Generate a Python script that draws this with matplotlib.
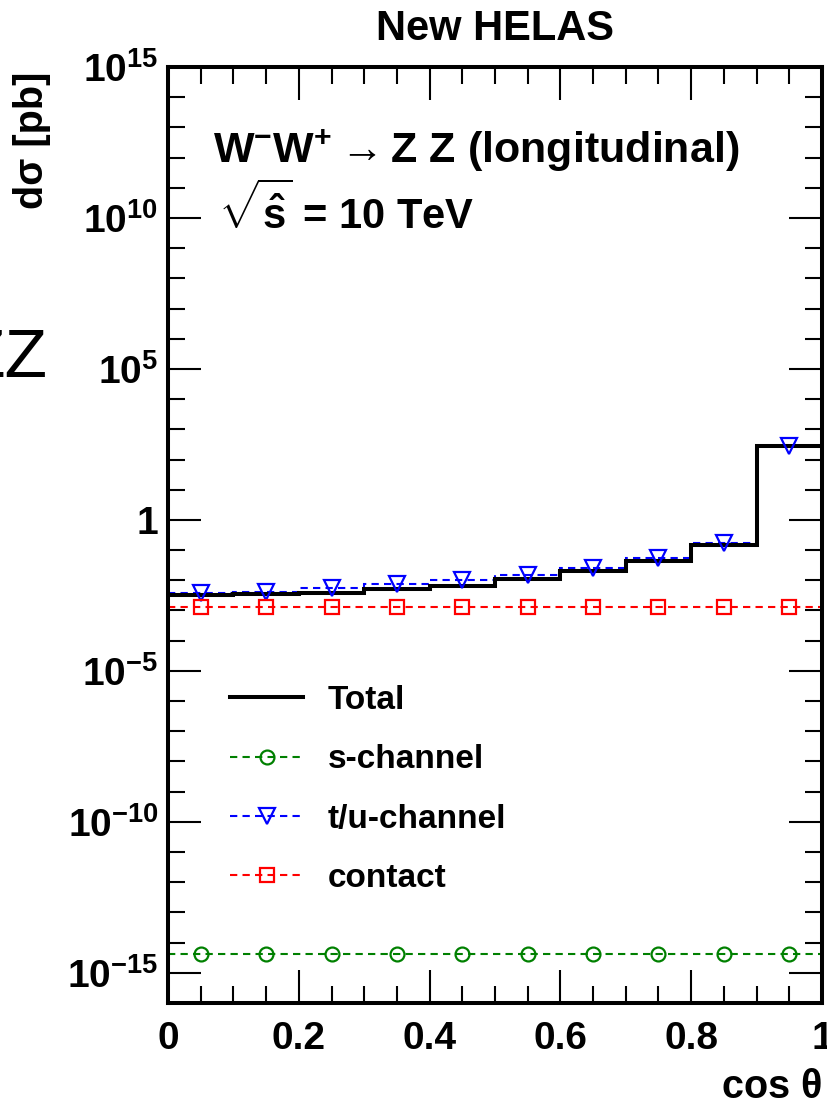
import numpy as np
import matplotlib
matplotlib.use("Agg")
import matplotlib.pyplot as plt
from matplotlib.lines import Line2D
from matplotlib.ticker import FixedLocator, FixedFormatter

plt.rcParams['font.family'] = ['Liberation Sans', 'DejaVu Sans']
plt.rcParams['font.weight'] = 'bold'
plt.rcParams['mathtext.fontset'] = 'custom'
plt.rcParams['mathtext.rm'] = 'Liberation Sans:bold'
plt.rcParams['mathtext.it'] = 'Liberation Sans:bold'
plt.rcParams['mathtext.bf'] = 'Liberation Sans:bold'
plt.rcParams['mathtext.sf'] = 'Liberation Sans'

# ---- data ----
bin_edges = [0.0, 0.1, 0.2, 0.3, 0.4, 0.5, 0.6, 0.7, 0.8, 0.9, 1.0]
total = [3.2e-3, 3.4e-3, 3.9e-3, 5.0e-3, 6.5e-3, 1.07e-2, 2.04e-2, 4.4e-2, 1.48e-1, 2.7e2]
s_channel = [4.2e-15] * 10
tu_channel = [3.9e-3, 4.2e-3, 5.4e-3, 7.4e-3, 1.0e-2, 1.48e-2, 2.6e-2, 5.6e-2, 1.78e-1, 2.8e2]
contact = [1.3e-3] * 10

series_labels = ["Total", "s-channel", "t/u-channel", "contact"]
ytick_vals = [1e-15, 1e-10, 1e-5, 1, 1e5, 1e10, 1e15]
ytick_labels = [r"$\mathdefault{10^{-15}}$", r"$\mathdefault{10^{-10}}$", r"$\mathdefault{10^{-5}}$",
                "1", r"$\mathdefault{10^{5}}$", r"$\mathdefault{10^{10}}$", r"$\mathdefault{10^{15}}$"]
xtick_vals = [0, 0.2, 0.4, 0.6, 0.8, 1.0]
xtick_labels = ["0", "0.2", "0.4", "0.6", "0.8", "1"]

W, H = 828, 1106
fig = plt.figure(figsize=(W / 100, H / 100), dpi=100)
ax = fig.add_axes([168 / W, 1 - 1003 / H, (822 - 168) / W, (1003 - 67) / H])

edges = np.array(bin_edges)
centers = 0.5 * (edges[:-1] + edges[1:])

dash = (3.5, 2.5)
ax.stairs(total, edges, color='black', lw=2.9, baseline=None, zorder=3)
ax.stairs(s_channel, edges, color='green', lw=1.5, ls=(0, dash), baseline=None, zorder=2)
ax.stairs(tu_channel, edges, color='blue', lw=1.5, ls=(0, dash), baseline=None, zorder=2)
ax.stairs(contact, edges, color='red', lw=1.5, ls=(0, dash), baseline=None, zorder=2)
ax.plot(centers, s_channel, ls='none', marker='o', ms=10, mfc='none', mec='green', mew=1.6, zorder=4)
ax.plot(centers, tu_channel, ls='none', marker='v', ms=11, mfc='none', mec='blue', mew=1.6, zorder=4)
ax.plot(centers, contact, ls='none', marker='s', ms=10.5, mfc='none', mec='red', mew=1.6, zorder=4)

ax.set_yscale('log')
ax.set_xlim(0, 1)
ax.set_ylim(1e-16, 1e15)

ax.yaxis.set_major_locator(FixedLocator(ytick_vals))
ax.yaxis.set_major_formatter(FixedFormatter(ytick_labels))
ax.yaxis.set_minor_locator(FixedLocator(10.0 ** np.arange(-16, 16)))
ax.yaxis.set_minor_formatter(FixedFormatter([]))
ax.xaxis.set_major_locator(FixedLocator(xtick_vals))
ax.xaxis.set_major_formatter(FixedFormatter(xtick_labels))
ax.xaxis.set_minor_locator(FixedLocator(np.arange(0, 1.0001, 0.05)))

for s in ax.spines.values():
    s.set_linewidth(2.9)
ax.tick_params(which='both', direction='in', top=True, right=True, width=1.5)
ax.tick_params(which='major', length=24, labelsize=28)
ax.tick_params(which='minor', length=12)
ax.tick_params(axis='x', which='major', pad=13)
ax.tick_params(axis='y', which='major', pad=7)

ax.set_title("New HELAS", fontsize=30, fontweight='bold', pad=19.5)

ax.set_ylabel("dσ [pb]", fontsize=28.5, fontweight='bold')
ax.yaxis.label.set(ha='right', va='bottom')
ax.yaxis.set_label_coords((51 - 168) / 654, (1003 - 72) / 936)

ax.set_xlabel(r"cos $\mathsf{\theta}$", fontsize=28.5, fontweight='bold')
ax.xaxis.label.set(ha='right', va='baseline')
ax.xaxis.set_label_coords(1.0, (1003 - 1098) / 936)

ax.text((213 - 168) / 654, (1003 - 163) / 936,
        r"W$^{-}$W$^{+}\rightarrow$Z Z (longitudinal)", transform=ax.transAxes,
        fontsize=31, fontweight='bold', ha='left', va='baseline')
ax.text((218 - 168) / 654, (1003 - 230) / 936,
        r"$\sqrt{\hat{s}}$ = 10 TeV", transform=ax.transAxes,
        fontsize=30, fontweight='bold', ha='left', va='baseline')

fig.text(48 / W, 1 - 377 / H, "ZZ", fontsize=50, fontweight='normal',
         family='Liberation Sans', ha='right', va='baseline')

handles = [
    Line2D([], [], color='black', lw=2.9),
    Line2D([], [], color='green', lw=1.5, ls=(0, dash), marker='o', ms=10, mfc='none', mec='green', mew=1.6),
    Line2D([], [], color='blue', lw=1.5, ls=(0, dash), marker='v', ms=11, mfc='none', mec='blue', mew=1.6),
    Line2D([], [], color='red', lw=1.5, ls=(0, dash), marker='s', ms=10.5, mfc='none', mec='red', mew=1.6),
]
leg = fig.legend(handles, series_labels, loc='upper left', bbox_to_anchor=(230 / W, 1 - 685 / H),
                 frameon=False, borderpad=0, borderaxespad=0, numpoints=1,
                 handlelength=2.19, handletextpad=0.75, labelspacing=0.85,
                 prop={'weight': 'bold', 'size': 24})

fig.savefig("out.png", dpi=100)
